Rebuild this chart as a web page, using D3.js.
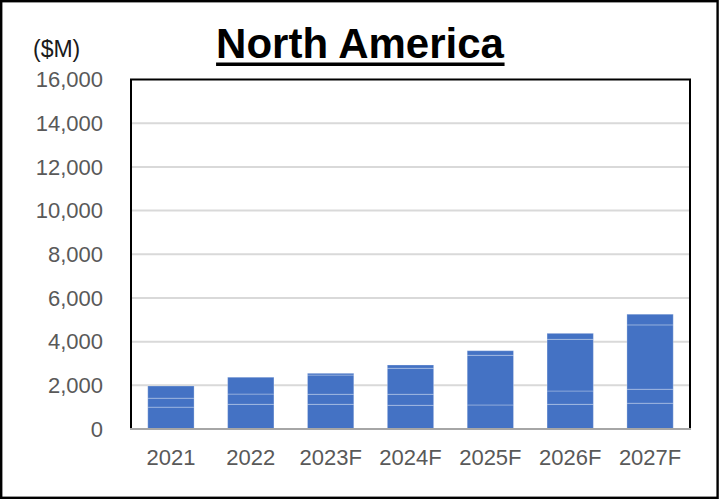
<!DOCTYPE html>
<html>
<head>
<meta charset="utf-8">
<script src="https://cdn.jsdelivr.net/npm/d3@7"></script>
<style>
  html, body { margin: 0; padding: 0; background: #fff; }
  svg { display: block; font-family: "Liberation Sans", Arial, sans-serif; }
</style>
</head>
<body>
<svg id="chart" width="719" height="500"></svg>
<script>
// Market size, North America ($M), split into stacked segments
const years = ["2021", "2022", "2023F", "2024F", "2025F", "2026F", "2027F"];
const segmentA = [1000, 1130, 1130, 1085, 1100, 1130, 1180];
const segmentB = [410, 470, 460, 505, 0, 610, 640];
const segmentC = [560, 770, 880, 1190, 2275, 2365, 2945];
const segmentD = [0, 0, 80, 150, 210, 275, 490];
const yTicks = [0, 2000, 4000, 6000, 8000, 10000, 12000, 14000, 16000];

const segmentKeys = ["a", "b", "c", "d"];
const rows = years.map((y, i) => ({
  year: y, a: segmentA[i], b: segmentB[i], c: segmentC[i], d: segmentD[i]
}));

const svg = d3.select("#chart");
const W = 719, H = 500;
const plot = { left: 131, right: 690, top: 79.5, bottom: 429 };

// outer frame
svg.append("rect")
  .attr("x", 1.2).attr("y", 1.2)
  .attr("width", W - 2.6).attr("height", H - 3.4)
  .attr("fill", "#fff").attr("stroke", "#000").attr("stroke-width", 2.4);

const x = d3.scaleBand()
  .domain(years)
  .range([plot.left, plot.right])
  .paddingInner(0.42)
  .paddingOuter(0.21);

const y = d3.scaleLinear()
  .domain([0, 16000])
  .range([plot.bottom, plot.top]);

// horizontal gridlines
svg.append("g")
  .selectAll("line")
  .data(yTicks.filter(t => t > 0 && t < 16000))
  .join("line")
  .attr("x1", plot.left).attr("x2", plot.right)
  .attr("y1", d => y(d)).attr("y2", d => y(d))
  .attr("stroke", "#d9d9d9").attr("stroke-width", 2);

// stacked bars
const stack = d3.stack().keys(segmentKeys)(rows);
svg.append("g")
  .selectAll("g")
  .data(stack)
  .join("g")
  .selectAll("rect")
  .data(s => s.filter(d => d[1] - d[0] > 0))
  .join("rect")
  .attr("x", d => x(d.data.year))
  .attr("width", x.bandwidth())
  .attr("y", d => y(d[1]))
  .attr("height", d => y(d[0]) - y(d[1]))
  .attr("fill", "#4472c4")
  .attr("stroke", "rgba(255,255,255,0.28)")
  .attr("stroke-width", 1);

// plot frame (left, top, right)
svg.append("path")
  .attr("d", `M${plot.left},${plot.bottom}V${plot.top}H${plot.right}V${plot.bottom}`)
  .attr("fill", "none").attr("stroke", "#000").attr("stroke-width", 2);

// category axis line
svg.append("line")
  .attr("x1", plot.left - 1).attr("x2", plot.right + 1)
  .attr("y1", plot.bottom).attr("y2", plot.bottom)
  .attr("stroke", "#a6a6a6").attr("stroke-width", 2);

// y axis tick labels
const fmt = d3.format(",");
svg.append("g")
  .selectAll("text")
  .data(yTicks)
  .join("text")
  .attr("x", 103)
  .attr("y", d => y(d))
  .attr("dy", "0.35em")
  .attr("text-anchor", "end")
  .attr("font-size", 22)
  .attr("fill", "#595959")
  .text(d => fmt(d));

// x axis labels
svg.append("g")
  .selectAll("text")
  .data(years)
  .join("text")
  .attr("x", d => x(d) + x.bandwidth() / 2)
  .attr("y", 465)
  .attr("text-anchor", "middle")
  .attr("font-size", 22)
  .attr("fill", "#595959")
  .text(d => d);

// unit label
svg.append("text")
  .attr("x", 33).attr("y", 57)
  .attr("font-size", 23)
  .attr("fill", "#1a1a1a")
  .text("($M)");

// title with underline
const title = svg.append("text")
  .attr("x", 360).attr("y", 58)
  .attr("text-anchor", "middle")
  .attr("font-size", 42)
  .attr("font-weight", "bold")
  .attr("fill", "#000")
  .text("North America");
const tb = title.node().getBBox();
svg.append("rect")
  .attr("x", tb.x).attr("y", 62.5)
  .attr("width", tb.width).attr("height", 3.5)
  .attr("fill", "#000");
</script>
</body>
</html>
